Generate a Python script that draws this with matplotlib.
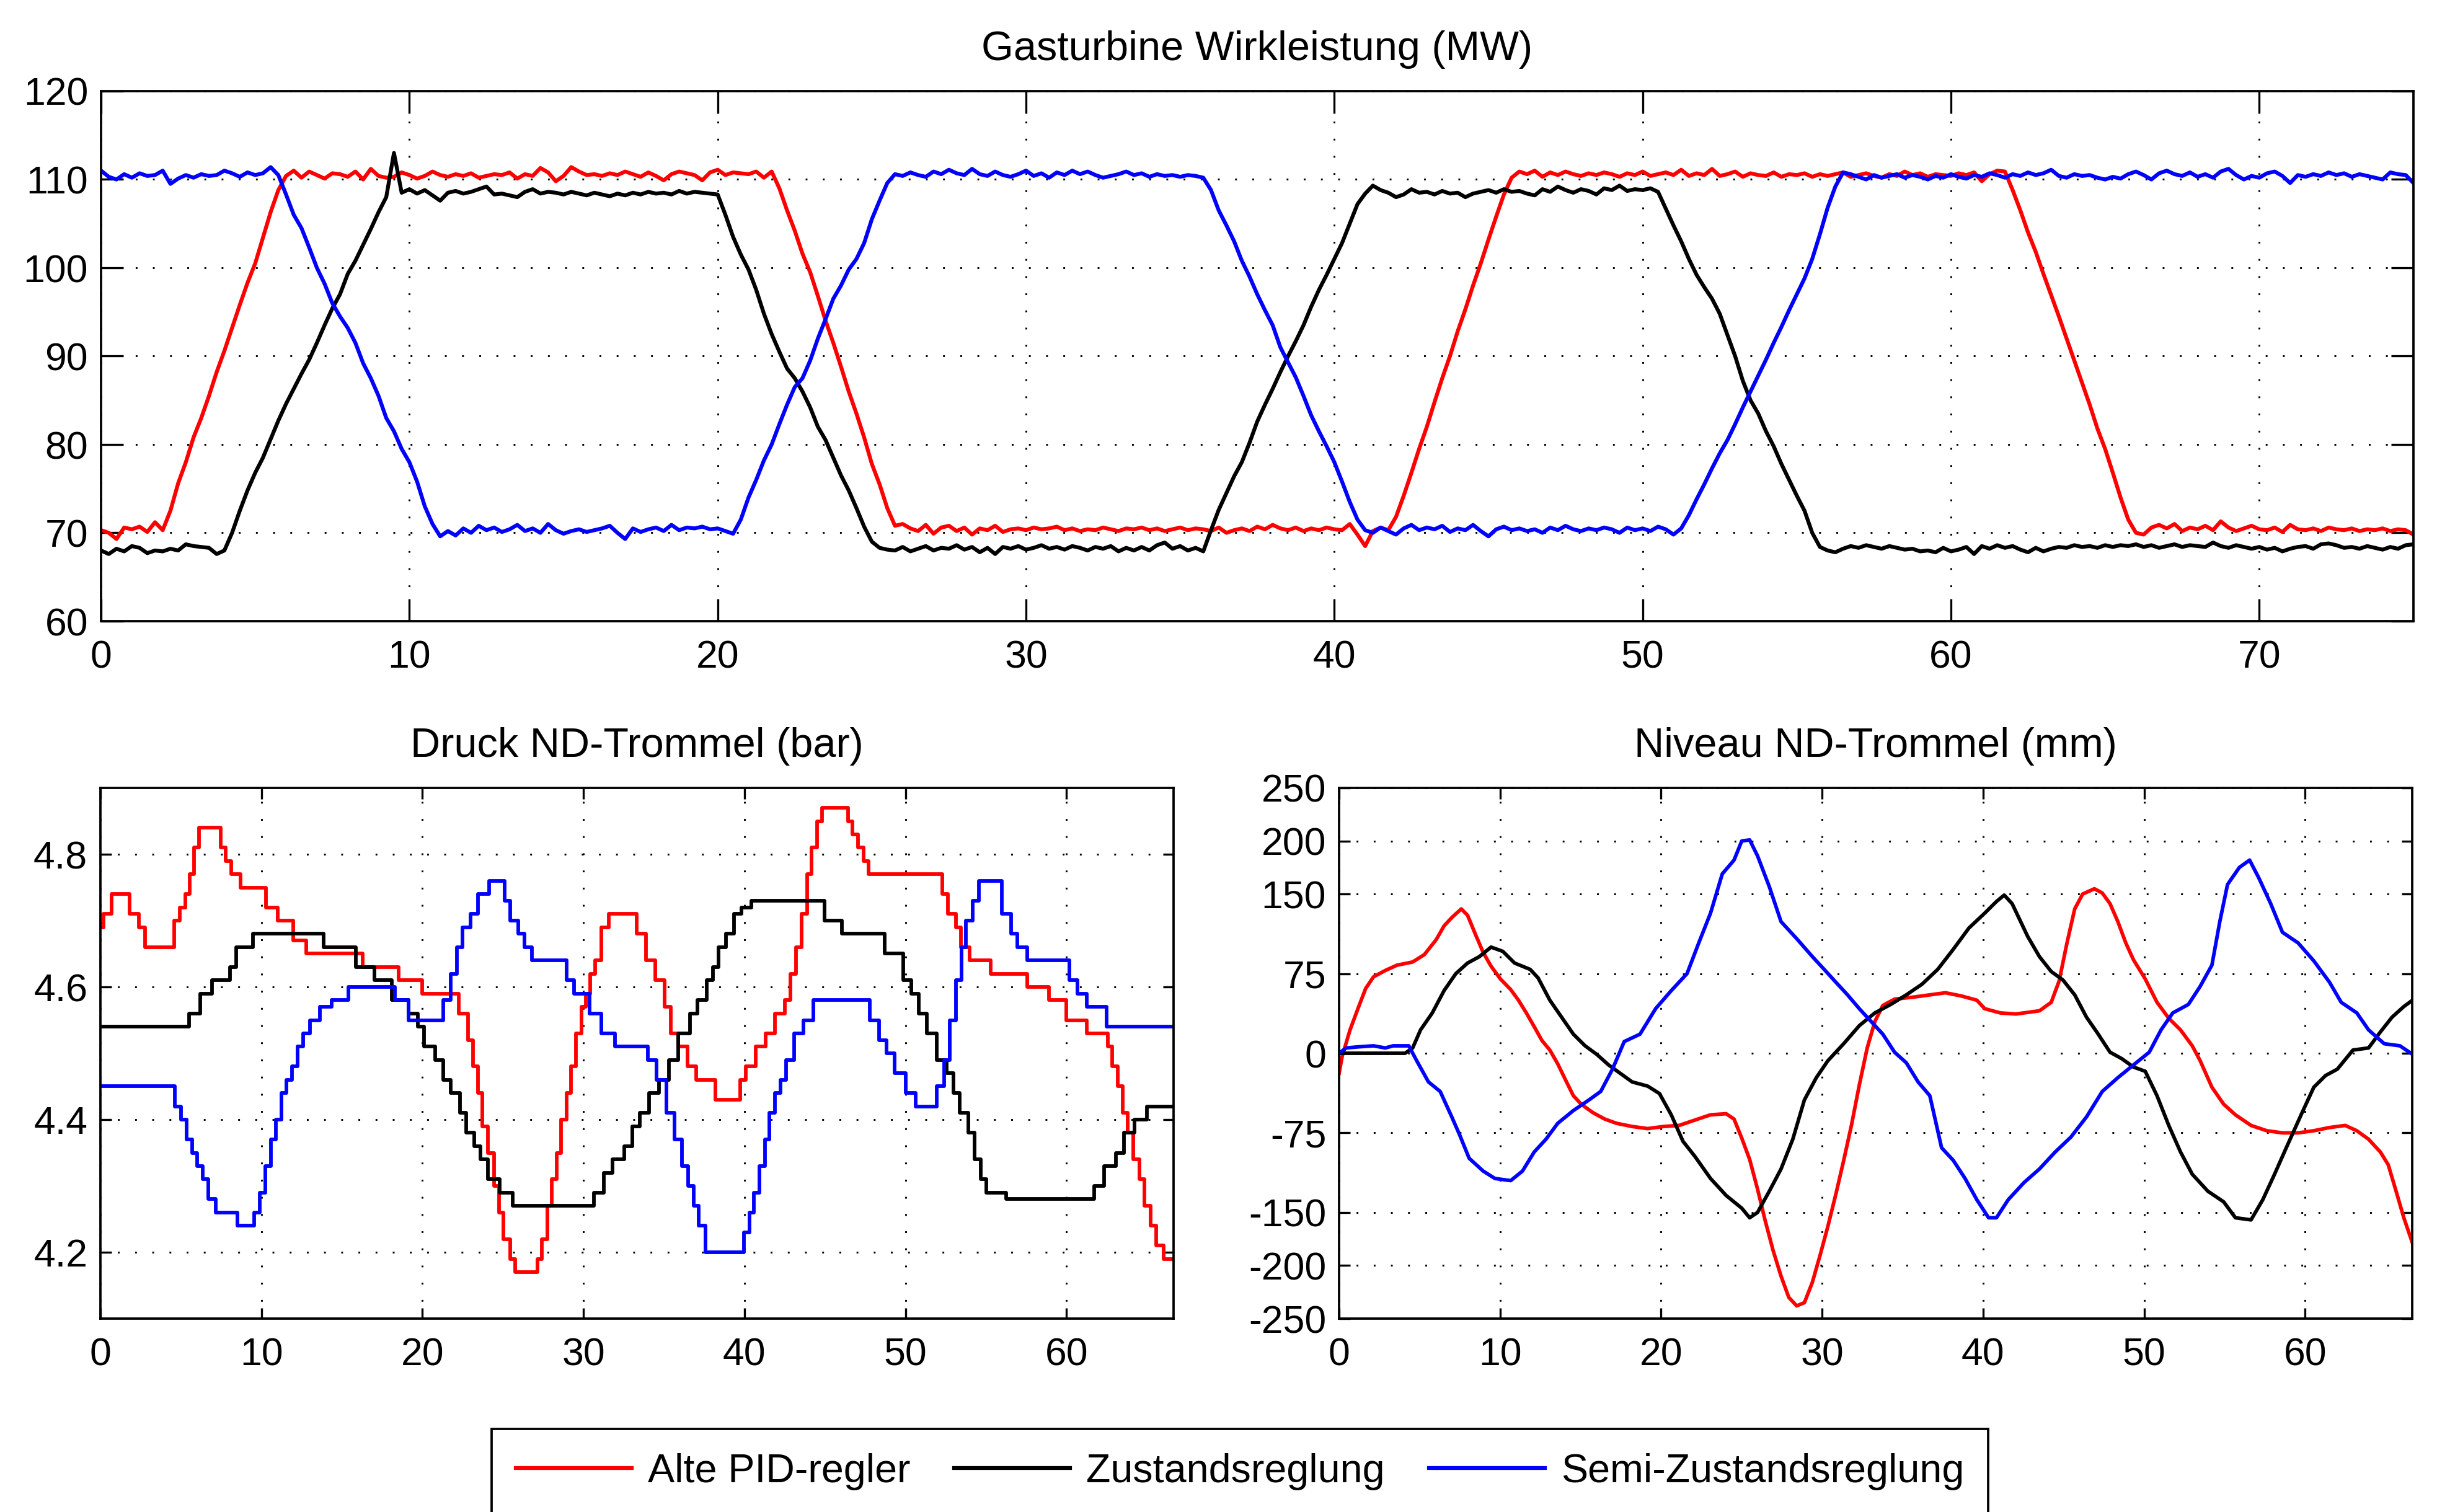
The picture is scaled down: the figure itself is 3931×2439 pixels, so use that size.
import numpy as np
import matplotlib
matplotlib.use("Agg")
import matplotlib.pyplot as plt

plt.rcParams['font.family'] = ['Liberation Sans', 'DejaVu Sans']
plt.rcParams['font.size'] = 15

labels = ['Alte PID-regler', 'Zustandsreglung', 'Semi-Zustandsreglung']
colors = ['red', 'black', 'blue']

# Gasturbine Wirkleistung (MW), one value every 0.25 s, t = 0 ... 75
dt_gt = 0.25
gt_pid = [
    70.3, 70.0, 69.3, 70.6, 70.4, 70.7, 70.1, 71.2, 70.3, 72.5, 75.6, 78.0, 80.8, 83.0, 85.5, 88.2, 90.6, 93.2, 95.8, 98.3,
    100.5, 103.4, 106.3, 108.8, 110.4, 111.0, 110.2, 110.9, 110.5, 110.1, 110.7, 110.6, 110.3, 110.9, 110.0, 111.2, 110.4, 110.2, 110.3, 110.8,
    110.5, 110.1, 110.4, 110.9, 110.5, 110.3, 110.6, 110.4, 110.7, 110.2, 110.4, 110.6, 110.5, 110.8, 110.1, 110.6, 110.4, 111.3, 110.8, 109.8,
    110.4, 111.4, 110.9, 110.5, 110.6, 110.4, 110.7, 110.5, 110.9, 110.6, 110.3, 110.8, 110.4, 109.9, 110.6, 110.9, 110.7, 110.5, 109.9, 110.8,
    111.1, 110.5, 110.8, 110.7, 110.6, 110.9, 110.2, 110.9, 109.0, 106.5, 104.2, 101.6, 99.5, 96.8, 94.0, 91.5, 88.8, 86.0, 83.5, 80.8,
    77.8, 75.5, 72.8, 70.8, 71.0, 70.5, 70.2, 70.9, 69.9, 70.6, 70.8, 70.2, 70.6, 69.8, 70.5, 70.3, 70.8, 70.1, 70.4, 70.5,
    70.3, 70.6, 70.4, 70.5, 70.7, 70.3, 70.5, 70.2, 70.4, 70.3, 70.6, 70.4, 70.2, 70.5, 70.4, 70.6, 70.3, 70.5, 70.2, 70.4,
    70.6, 70.3, 70.5, 70.4, 70.2, 70.6, 70.0, 70.3, 70.5, 70.2, 70.7, 70.4, 70.9, 70.5, 70.3, 70.6, 70.2, 70.5, 70.3, 70.6,
    70.4, 70.3, 71.0, 69.8, 68.5, 70.2, 70.6, 70.3, 71.8, 74.2, 76.8, 79.5, 82.0, 84.8, 87.5, 90.0, 92.8, 95.3, 98.0, 100.5,
    103.2, 105.8, 108.3, 110.2, 110.9, 110.6, 111.0, 110.3, 110.8, 110.5, 110.9, 110.6, 110.4, 110.7, 110.5, 110.8, 110.6, 110.3, 110.7, 110.5,
    110.9, 110.4, 110.6, 110.8, 110.5, 111.1, 110.4, 110.7, 110.5, 111.2, 110.4, 110.6, 110.9, 110.3, 110.7, 110.5, 110.4, 110.8, 110.3, 110.6,
    110.5, 110.7, 110.3, 110.6, 110.4, 110.6, 110.8, 110.3, 110.5, 110.7, 110.4, 110.2, 110.6, 110.4, 110.9, 110.5, 110.7, 110.3, 110.6, 110.5,
    110.4, 110.7, 110.5, 110.8, 109.8, 110.6, 111.0, 110.9, 108.8, 106.5, 104.0, 101.8, 99.3, 96.9, 94.5, 92.0, 89.5, 87.0, 84.5, 81.8,
    79.5, 76.8, 74.0, 71.5, 70.0, 69.8, 70.6, 70.9, 70.5, 71.0, 70.2, 70.6, 70.4, 70.8, 70.3, 71.3, 70.6, 70.2, 70.5, 70.8,
    70.4, 70.3, 70.6, 70.1, 70.9, 70.4, 70.3, 70.5, 70.2, 70.6, 70.4, 70.3, 70.5, 70.2, 70.4, 70.3, 70.5, 70.2, 70.4, 70.3,
    69.8]
gt_zr = [
    68.0, 67.6, 68.2, 67.9, 68.5, 68.3, 67.7, 68.0, 67.9, 68.2, 68.0, 68.7, 68.5, 68.4, 68.3, 67.6, 68.0, 70.0, 72.5, 74.8,
    76.8, 78.5, 80.6, 82.7, 84.6, 86.3, 88.0, 89.6, 91.5, 93.5, 95.4, 97.0, 99.3, 100.8, 102.6, 104.4, 106.3, 108.0, 113.0, 108.5,
    108.9, 108.4, 108.8, 108.2, 107.6, 108.5, 108.7, 108.4, 108.6, 108.9, 109.2, 108.3, 108.4, 108.2, 108.0, 108.6, 108.9, 108.4, 108.6, 108.5,
    108.3, 108.6, 108.4, 108.2, 108.5, 108.3, 108.1, 108.4, 108.2, 108.5, 108.3, 108.6, 108.4, 108.5, 108.3, 108.7, 108.4, 108.6, 108.5, 108.4,
    108.3, 106.0, 103.5, 101.5, 99.8, 97.5, 94.8, 92.5, 90.5, 88.6, 87.5, 86.0, 84.2, 82.0, 80.5, 78.5, 76.5, 74.8, 72.8, 70.7,
    69.0, 68.3, 68.1, 68.0, 68.4, 67.9, 68.2, 68.5, 68.0, 68.3, 68.2, 68.6, 68.1, 68.4, 67.8, 68.3, 67.6, 68.4, 68.2, 68.5,
    68.1, 68.3, 68.6, 68.2, 68.4, 68.1, 68.5, 68.3, 68.0, 68.4, 68.2, 68.5, 67.9, 68.3, 68.0, 68.4, 68.0, 68.6, 68.9, 68.2,
    68.5, 68.0, 68.3, 67.9, 70.3, 72.6, 74.5, 76.4, 78.0, 80.2, 82.6, 84.5, 86.3, 88.2, 90.0, 91.7, 93.5, 95.6, 97.5, 99.2,
    101.0, 102.8, 105.0, 107.2, 108.4, 109.3, 108.8, 108.5, 108.0, 108.3, 108.9, 108.5, 108.6, 108.3, 108.7, 108.4, 108.5, 108.0, 108.4, 108.6,
    108.8, 108.5, 108.9, 108.6, 108.7, 108.4, 108.2, 108.9, 108.6, 109.2, 108.8, 108.5, 108.9, 108.7, 108.3, 109.0, 108.8, 109.3, 108.7, 108.9,
    108.8, 109.0, 108.6, 106.7, 104.8, 103.0, 101.0, 99.2, 97.8, 96.5, 94.8, 92.4, 90.0, 87.2, 85.0, 83.5, 81.5, 79.8, 77.8, 76.0,
    74.2, 72.5, 70.0, 68.4, 68.0, 67.8, 68.2, 68.5, 68.3, 68.6, 68.4, 68.2, 68.5, 68.3, 68.1, 68.2, 67.9, 68.0, 67.8, 68.3,
    67.9, 68.1, 68.4, 67.6, 68.5, 68.2, 68.6, 68.3, 68.5, 68.1, 67.8, 68.3, 67.9, 68.2, 68.4, 68.3, 68.6, 68.4, 68.5, 68.3,
    68.6, 68.4, 68.6, 68.5, 68.7, 68.4, 68.6, 68.3, 68.5, 68.7, 68.4, 68.6, 68.5, 68.4, 68.9, 68.5, 68.3, 68.6, 68.4, 68.2,
    68.4, 68.1, 68.3, 67.9, 68.2, 68.4, 68.5, 68.2, 68.7, 68.8, 68.6, 68.3, 68.4, 68.2, 68.5, 68.3, 68.1, 68.4, 68.2, 68.6,
    68.7]
gt_semi = [
    111.0, 110.3, 110.0, 110.6, 110.2, 110.7, 110.4, 110.5, 111.0, 109.5, 110.1, 110.5, 110.2, 110.6, 110.4, 110.5, 111.0, 110.7, 110.3, 110.8,
    110.5, 110.7, 111.4, 110.5, 108.3, 106.0, 104.5, 102.3, 100.0, 98.2, 96.0, 94.5, 93.2, 91.5, 89.2, 87.5, 85.5, 83.0, 81.5, 79.5,
    78.0, 75.8, 73.0, 71.0, 69.6, 70.2, 69.7, 70.5, 70.0, 70.8, 70.3, 70.6, 70.1, 70.4, 70.9, 70.2, 70.5, 70.0, 71.0, 70.3,
    69.9, 70.2, 70.4, 70.1, 70.3, 70.5, 70.8, 70.0, 69.3, 70.5, 70.1, 70.4, 70.6, 70.2, 70.9, 70.3, 70.6, 70.5, 70.7, 70.4,
    70.5, 70.2, 69.9, 71.5, 74.0, 76.0, 78.2, 80.0, 82.3, 84.5, 86.5, 87.5, 89.5, 92.0, 94.2, 96.5, 98.0, 99.8, 101.0, 102.8,
    105.5, 107.6, 109.6, 110.6, 110.4, 110.8, 110.5, 110.3, 110.9, 110.6, 111.1, 110.7, 110.5, 111.2, 110.6, 110.4, 110.9, 110.5, 110.3, 110.6,
    111.0, 110.4, 110.7, 110.2, 110.8, 110.5, 111.0, 110.6, 110.9, 110.5, 110.2, 110.4, 110.6, 110.9, 110.5, 110.7, 110.3, 110.6, 110.4, 110.5,
    110.3, 110.5, 110.4, 110.2, 108.8, 106.5, 104.8, 103.0, 100.8, 99.0, 97.0, 95.2, 93.5, 91.0, 89.3, 87.6, 85.5, 83.3, 81.5, 79.8,
    78.0, 75.8, 73.5, 71.5, 70.3, 70.0, 70.6, 70.2, 69.8, 70.5, 70.9, 70.3, 70.6, 70.4, 70.8, 70.1, 70.5, 70.3, 70.9, 70.2,
    69.6, 70.4, 70.7, 70.3, 70.5, 70.2, 70.4, 70.0, 70.6, 70.3, 70.8, 70.4, 70.2, 70.5, 70.3, 70.6, 70.4, 70.0, 70.6, 70.3,
    70.5, 70.2, 70.7, 70.4, 69.8, 70.5, 72.0, 73.8, 75.5, 77.3, 79.0, 80.5, 82.3, 84.2, 86.0, 87.8, 89.6, 91.5, 93.3, 95.2,
    97.0, 98.8, 101.0, 103.8, 106.8, 109.2, 110.8, 110.6, 110.3, 110.0, 110.5, 110.2, 110.4, 110.6, 110.2, 110.5, 110.3, 110.0, 110.4, 110.2,
    110.6, 110.3, 110.1, 110.5, 110.3, 110.7, 110.5, 110.2, 110.6, 110.4, 110.8, 110.5, 110.7, 111.1, 110.4, 110.2, 110.6, 110.4, 110.5, 110.2,
    110.0, 110.3, 110.1, 110.6, 110.9, 110.5, 110.0, 110.7, 111.0, 110.6, 110.4, 110.8, 110.3, 110.6, 110.2, 110.9, 111.2, 110.5, 110.0, 110.4,
    110.2, 110.7, 110.9, 110.4, 109.6, 110.5, 110.3, 110.6, 110.4, 110.8, 110.5, 110.7, 110.3, 110.6, 110.4, 110.2, 110.0, 110.8, 110.6, 110.5,
    109.6]

# Druck ND-Trommel (bar): start time of each step and its level
dr_pid_t = [0.0, 0.18, 0.71, 1.81, 2.38, 2.77, 4.59, 4.92, 5.26, 5.54, 5.83, 6.12, 7.46, 7.79, 8.13, 8.70,
            10.28, 11.0, 11.96, 12.77, 16.27, 18.51, 20.0, 22.25, 22.82, 23.16, 23.44, 23.73, 24.07, 24.45,
            24.74, 25.02, 25.46, 25.74, 27.13, 27.42, 27.75, 28.04, 28.33, 28.62, 28.95, 29.24, 29.52, 29.86,
            30.15, 30.43, 30.72, 31.1, 31.58, 33.31, 33.88, 34.46, 35.03, 35.42, 35.89, 36.47, 36.99, 38.19,
            39.72, 40.1, 40.68, 41.3, 41.88, 42.5, 42.84, 43.22, 43.55, 43.89, 44.17, 44.51, 44.8, 46.43,
            46.72, 47.05, 47.39, 47.72, 52.27, 52.65, 53.13, 53.46, 53.99, 55.28, 57.58, 58.92, 59.97, 61.26,
            62.55, 62.84, 63.18, 63.51, 63.8, 64.13, 64.52, 64.85, 65.24, 65.57, 66.05]
dr_pid = [4.69, 4.71, 4.74, 4.71, 4.69, 4.66, 4.70, 4.72, 4.74, 4.77, 4.81, 4.84, 4.81, 4.79, 4.77, 4.75,
          4.72, 4.70, 4.67, 4.65, 4.63, 4.61, 4.59, 4.56, 4.52, 4.48, 4.44, 4.39, 4.35, 4.30,
          4.26, 4.22, 4.19, 4.17, 4.19, 4.22, 4.27, 4.31, 4.35, 4.40, 4.44, 4.48, 4.53, 4.57,
          4.59, 4.62, 4.64, 4.69, 4.71, 4.68, 4.64, 4.61, 4.57, 4.53, 4.51, 4.48, 4.46, 4.43,
          4.46, 4.48, 4.51, 4.53, 4.56, 4.58, 4.62, 4.66, 4.71, 4.77, 4.81, 4.85, 4.87, 4.85,
          4.83, 4.81, 4.79, 4.77, 4.74, 4.71, 4.69, 4.66, 4.64, 4.62, 4.60, 4.58, 4.55, 4.53,
          4.51, 4.48, 4.45, 4.41, 4.38, 4.34, 4.31, 4.27, 4.24, 4.21, 4.19]
dr_zr_t = [0.0, 5.50, 6.21, 6.93, 8.03, 8.42, 9.47, 13.87, 15.88, 17.03, 18.09, 19.14, 19.71, 20.09, 20.81,
           21.29, 21.77, 22.35, 22.73, 23.21, 23.59, 24.07, 24.79, 25.60, 30.63, 31.25, 31.82, 32.54, 33.02,
           33.5, 34.07, 34.69, 35.32, 35.89, 36.61, 37.09, 37.66, 38.05, 38.38, 38.86, 39.34, 39.81, 40.44,
           44.99, 46.04, 48.72, 49.87, 50.35, 50.83, 51.31, 51.93, 52.55, 52.98, 53.37, 53.89, 54.28, 54.66,
           55.04, 55.52, 56.24, 61.74, 62.32, 63.08, 63.56, 64.23, 65.0]
dr_zr = [4.54, 4.56, 4.59, 4.61, 4.63, 4.66, 4.68, 4.66, 4.63, 4.61, 4.58, 4.56, 4.54, 4.51, 4.49,
         4.46, 4.44, 4.41, 4.38, 4.36, 4.34, 4.31, 4.29, 4.27, 4.29, 4.32, 4.34, 4.36, 4.39,
         4.41, 4.44, 4.46, 4.49, 4.53, 4.56, 4.58, 4.61, 4.63, 4.66, 4.68, 4.71, 4.72, 4.73,
         4.70, 4.68, 4.65, 4.61, 4.59, 4.56, 4.53, 4.49, 4.47, 4.44, 4.41, 4.38, 4.34, 4.31,
         4.29, 4.29, 4.28, 4.30, 4.33, 4.35, 4.38, 4.40, 4.42]
dr_semi_t = [0.0, 4.63, 5.02, 5.35, 5.69, 6.02, 6.36, 6.69, 7.17, 8.51, 9.56, 9.90, 10.23, 10.57, 10.90,
             11.24, 11.57, 11.91, 12.24, 12.58, 13.01, 13.63, 14.35, 15.40, 18.28, 19.14, 21.29, 21.77,
             22.15, 22.49, 22.97, 23.45, 24.16, 25.12, 25.46, 25.94, 26.32, 26.80, 28.95, 29.43, 30.39,
             31.1, 31.97, 33.98, 34.55, 35.17, 35.65, 36.13, 36.52, 36.85, 37.14, 37.57, 39.96, 40.30,
             40.59, 40.92, 41.26, 41.55, 41.88, 42.22, 42.60, 43.08, 43.66, 44.28, 47.78, 48.35, 48.83,
             49.31, 50.03, 50.65, 51.94, 52.42, 52.75, 53.13, 53.47, 53.75, 54.18, 54.57, 56.0, 56.57,
             56.96, 57.58, 60.17, 60.69, 61.27, 62.51]
dr_semi = [4.45, 4.42, 4.40, 4.37, 4.35, 4.33, 4.31, 4.28, 4.26, 4.24, 4.26, 4.29, 4.33, 4.37, 4.40,
           4.44, 4.46, 4.48, 4.51, 4.53, 4.55, 4.57, 4.58, 4.60, 4.58, 4.55, 4.58, 4.62,
           4.66, 4.69, 4.71, 4.74, 4.76, 4.73, 4.70, 4.68, 4.66, 4.64, 4.61, 4.59, 4.56,
           4.53, 4.51, 4.49, 4.46, 4.41, 4.37, 4.33, 4.30, 4.27, 4.24, 4.20, 4.23, 4.26,
           4.29, 4.33, 4.37, 4.41, 4.44, 4.46, 4.49, 4.53, 4.55, 4.58, 4.55, 4.52, 4.50,
           4.47, 4.44, 4.42, 4.45, 4.49, 4.55, 4.61, 4.66, 4.70, 4.73, 4.76, 4.71, 4.68,
           4.66, 4.64, 4.61, 4.59, 4.57, 4.54]

# Niveau ND-Trommel (mm)
nv_pid_t = [0.0, 0.19, 0.68, 1.17, 1.65, 2.14, 2.87, 3.60, 4.57, 5.30,
            6.03, 6.52, 7.01, 7.59, 7.98, 8.47, 8.95, 9.44, 10.02, 10.66,
            11.14, 11.63, 12.12, 12.6, 13.09, 13.58, 14.06, 14.55, 15.04, 15.77,
            16.5, 17.23, 18.2, 19.17, 20.15, 21.12, 22.09, 23.07, 24.04, 24.53,
            25.01, 25.5, 25.99, 26.47, 26.96, 27.45, 27.93, 28.42, 28.9, 29.39,
            29.88, 30.36, 30.85, 31.34, 31.82, 32.31, 32.8, 33.28, 33.77, 34.5,
            35.72, 36.69, 37.66, 38.64, 39.61, 40.1, 41.07, 42.04, 43.5, 44.23,
            44.72, 45.21, 45.69, 46.18, 46.91, 47.4, 47.88, 48.37, 48.86, 49.34,
            50.07, 50.8, 51.53, 52.26, 52.99, 53.48, 54.21, 54.94, 55.67, 56.64,
            57.62, 58.59, 59.56, 60.54, 61.51, 62.49, 63.21, 63.94, 64.67, 65.16,
            65.65, 66.13, 66.67]
nv_pid = [-19, -3, 22, 42, 61, 72, 78, 83, 86, 93,
          107, 120, 128, 136, 130, 112, 95, 82, 70, 60,
          50, 38, 25, 12, 3, -10, -25, -40, -48, -56,
          -62, -66, -69, -71, -69, -68, -63, -58, -57, -62,
          -80, -100, -128, -158, -186, -210, -230, -238, -235, -216,
          -190, -163, -133, -101, -68, -30, 5, 30, 45, 51,
          53, 55, 57, 54, 50, 42, 38, 37, 40, 48,
          68, 104, 136, 150, 155, 151, 141, 124, 104, 88,
          70, 48, 33, 22, 7, -7, -32, -48, -58, -68,
          -73, -75, -75, -73, -70, -68, -73, -81, -93, -105,
          -130, -155, -179]
nv_zr_t = [0.0, 4.1, 4.57, 5.06, 5.79, 6.52, 7.25, 7.98, 8.71, 9.44,
           10.17, 10.9, 11.87, 12.36, 13.09, 13.82, 14.55, 15.28, 16.0, 16.74,
           17.47, 18.2, 19.17, 19.9, 20.63, 21.36, 22.09, 23.07, 24.04, 25.01,
           25.5, 25.99, 26.72, 27.45, 28.18, 28.9, 29.64, 30.36, 31.34, 32.31,
           33.28, 34.26, 35.23, 36.2, 37.18, 38.15, 39.12, 40.1, 40.83, 41.31,
           41.8, 42.77, 43.5, 44.23, 44.96, 45.69, 46.42, 47.15, 47.88, 48.6,
           49.34, 50.07, 50.8, 51.53, 52.26, 52.99, 53.96, 54.94, 55.67, 56.64,
           57.37, 58.1, 58.83, 59.81, 60.54, 61.27, 62.0, 62.97, 63.94, 64.67,
           65.4, 66.13, 66.67]
nv_zr = [0, 0, 5, 22, 38, 59, 75, 85, 91, 100,
         96, 85, 79, 71, 50, 34, 18, 7, -1, -11,
         -19, -27, -31, -38, -58, -83, -97, -118, -134, -146,
         -155, -150, -130, -109, -81, -44, -23, -7, 9, 26,
         38, 46, 55, 65, 79, 98, 118, 132, 143, 149,
         141, 110, 91, 77, 69, 55, 34, 18, 1, -5,
         -13, -17, -40, -68, -93, -114, -130, -140, -155, -157,
         -138, -114, -89, -56, -32, -21, -15, 3, 5, 20,
         34, 44, 50]
nv_semi_t = [0.0, 0.44, 1.17, 2.14, 2.87, 3.36, 4.33, 4.82, 5.55, 6.28,
             7.0, 7.49, 8.08, 8.95, 9.68, 10.66, 11.39, 12.12, 12.85, 13.58,
             14.55, 15.52, 16.25, 16.98, 17.71, 18.69, 19.66, 20.63, 21.61, 22.34,
             23.07, 23.8, 24.53, 25.01, 25.5, 25.99, 26.72, 27.45, 28.42, 29.4,
             30.13, 30.85, 31.58, 32.31, 33.04, 33.77, 34.5, 35.23, 35.96, 36.69,
             37.42, 38.15, 38.88, 39.61, 40.34, 40.83, 41.56, 42.53, 43.5, 44.48,
             45.45, 46.42, 47.4, 48.37, 49.34, 50.32, 51.05, 51.78, 52.75, 53.48,
             54.21, 54.7, 55.18, 55.91, 56.55, 57.13, 57.86, 58.59, 59.56, 60.54,
             61.51, 62.24, 63.21, 63.94, 64.91, 65.89, 66.67]
nv_semi = [0, 5, 6, 7, 5, 7, 7, -7, -27, -36,
           -60, -77, -99, -111, -118, -120, -111, -93, -81, -66,
           -54, -44, -36, -15, 11, 18, 42, 59, 75, 104,
           132, 169, 182, 200, 201, 186, 157, 124, 108, 91,
           79, 67, 55, 42, 30, 18, 1, -9, -27, -40,
           -89, -101, -118, -138, -155, -155, -138, -122, -109, -93,
           -79, -60, -36, -23, -11, 1, 22, 38, 46, 63,
           83, 124, 159, 175, 182, 165, 141, 114, 104, 87,
           67, 48, 38, 22, 9, 7, -1]
nv_ticks = [-250, -200, -150, -75, 0, 75, 150, 200, 250]

x_end_bottom = 66.65

W, H = 3931, 2439
fig = plt.figure(figsize=(W / 300, H / 300), dpi=300)

grid_kw = dict(color='k', linestyle=(0, (1, 8.5)), linewidth=0.7)


def style_axes(ax, ticklen):
    ax.tick_params(direction='in', top=True, right=True, length=ticklen, width=0.8,
                   labelsize=15, pad=7)
    ax.tick_params(axis='y', pad=5)
    for s in ax.spines.values():
        s.set_linewidth(0.9)
    ax.grid(True, **grid_kw)
    ax.set_axisbelow(True)


# top: Gasturbine Wirkleistung
ax1 = fig.add_axes([163 / W, 1 - 1002 / H, 3730 / W, 855 / H])
for vals, c in zip([gt_pid, gt_zr, gt_semi], colors):
    t = np.arange(len(vals)) * dt_gt
    ax1.plot(t, vals, color=c, lw=1.5)
ax1.set_xlim(0, 75)
ax1.set_ylim(60, 120)
ax1.set_xticks(np.arange(0, 71, 10))
ax1.set_yticks(np.arange(60, 121, 10))
ax1.set_title('Gasturbine Wirkleistung (MW)', fontsize=16, pad=12)
style_axes(ax1, 8.7)

# bottom left: Druck ND-Trommel
ax2 = fig.add_axes([162 / W, 1 - 2127 / H, 1731 / W, 856 / H])
for tt, vv, c in zip([dr_pid_t, dr_zr_t, dr_semi_t], [dr_pid, dr_zr, dr_semi], colors):
    ax2.step(np.append(tt, x_end_bottom), np.append(vv, vv[-1]), where='post', color=c, lw=1.4)
ax2.set_xlim(0, x_end_bottom)
ax2.set_ylim(4.1, 4.9)
ax2.set_xticks(np.arange(0, 61, 10))
ax2.set_yticks([4.2, 4.4, 4.6, 4.8])
ax2.set_title('Druck ND-Trommel (bar)', fontsize=16, pad=12)
style_axes(ax2, 4.2)

# bottom right: Niveau ND-Trommel
ax3 = fig.add_axes([2160 / W, 1 - 2127 / H, 1731 / W, 856 / H])
for tt, vv, c in zip([nv_pid_t, nv_zr_t, nv_semi_t], [nv_pid, nv_zr, nv_semi], colors):
    ax3.plot(tt, vv, color=c, lw=1.4)
ax3.set_xlim(0, x_end_bottom)
ax3.set_ylim(-250, 250)
ax3.set_xticks(np.arange(0, 61, 10))
ax3.set_yticks(nv_ticks)
ax3.set_yticklabels([str(v) for v in nv_ticks])
ax3.set_title('Niveau ND-Trommel (mm)', fontsize=16, pad=12)
style_axes(ax3, 4.2)

handles = [plt.Line2D([], [], color=c, lw=1.5) for c in colors]
leg = fig.legend(handles, labels, loc='center', bbox_to_anchor=(2000 / W, 1 - 2374 / H),
                 ncol=3, fontsize=15.5, frameon=True, fancybox=False, edgecolor='k',
                 framealpha=1, borderpad=0.6, handlelength=2.9, handletextpad=0.4,
                 columnspacing=1.1)
leg.get_frame().set_linewidth(0.9)

fig.savefig('out.png', dpi=300)
